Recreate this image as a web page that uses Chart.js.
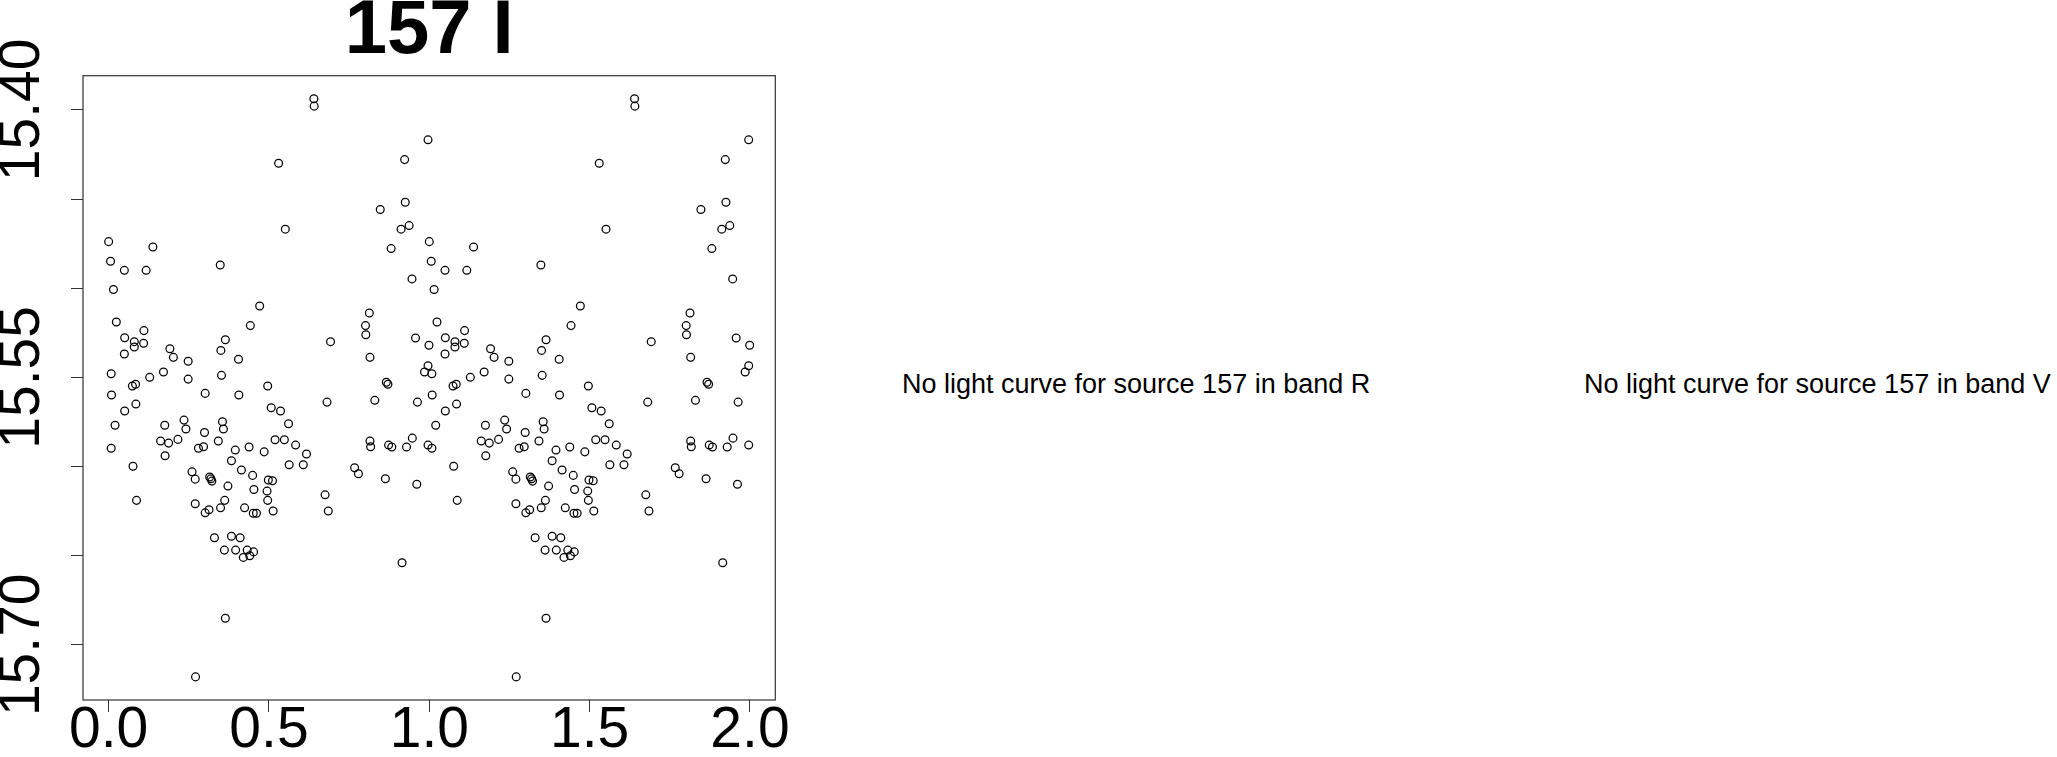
<!DOCTYPE html>
<html>
<head>
<meta charset="utf-8">
<script src="https://cdn.jsdelivr.net/npm/chart.js@4.4.1/dist/chart.umd.min.js"></script>
<style>
  html, body { margin: 0; padding: 0; background: #fff; }
  body { width: 2057px; height: 757px; position: relative; overflow: hidden; font-family: "Liberation Sans", Arial, sans-serif; }
  #panelI { position: absolute; left: 0; top: 0; width: 820px; height: 757px; }
  .nodata { position: absolute; top: 371px; font-size: 27px; line-height: 27px; white-space: nowrap; color: #000; }
</style>
</head>
<body>
<div id="panelI"><canvas id="lcI"></canvas></div>
<div class="nodata" id="msgR" style="left:902px"></div>
<div class="nodata" id="msgV" style="left:1584px"></div>
<script>
const sourceId = 157;
const band = 'I';
const missingBands = ['R', 'V'];

// phase-folded light curve, phase in [0,1), plotted twice
const phase = [
  0.000, 0.006, 0.008, 0.008, 0.009, 0.015, 0.020, 0.024, 0.049, 0.049,
  0.050, 0.050, 0.074, 0.076, 0.080, 0.080, 0.084, 0.085, 0.087, 0.109,
  0.110, 0.117, 0.128, 0.138, 0.162, 0.171, 0.175, 0.176, 0.187, 0.191,
  0.202, 0.216, 0.235, 0.241, 0.248, 0.248, 0.260, 0.270, 0.270, 0.271,
  0.280, 0.296, 0.299, 0.301, 0.301, 0.313, 0.315, 0.319, 0.322, 0.330,
  0.342, 0.348, 0.349, 0.350, 0.352, 0.355, 0.358, 0.361, 0.362, 0.364,
  0.364, 0.372, 0.383, 0.383, 0.395, 0.396, 0.405, 0.406, 0.410, 0.414,
  0.420, 0.424, 0.432, 0.438, 0.440, 0.442, 0.449, 0.451, 0.452, 0.453,
  0.461, 0.471, 0.485, 0.494, 0.496, 0.496, 0.498, 0.507, 0.511, 0.513,
  0.519, 0.530, 0.536, 0.548, 0.551, 0.561, 0.563, 0.583, 0.607, 0.617,
  0.640, 0.641, 0.675, 0.681, 0.685, 0.692, 0.767, 0.779, 0.801, 0.802,
  0.813, 0.815, 0.815, 0.817, 0.830, 0.847, 0.863, 0.866, 0.871, 0.873,
  0.881, 0.883, 0.912, 0.915, 0.923, 0.925, 0.929, 0.937, 0.946, 0.947,
  0.957, 0.961, 0.963, 0.985, 0.996, 0.996, 0.996, 0.999
];
const magI = [
  15.4739, 15.4849, 15.5480, 15.5898, 15.5599, 15.5007, 15.5769, 15.5190, 15.4900, 15.5369,
  15.5278, 15.5689, 15.5549, 15.5999, 15.5300, 15.5330, 15.5539, 15.5650, 15.6190, 15.5309,
  15.5238, 15.4900, 15.5500, 15.4769, 15.5857, 15.5470, 15.5769, 15.5940, 15.5869, 15.5340,
  15.5388, 15.5848, 15.5740, 15.5790, 15.5410, 15.5510, 15.6030, 15.6071, 15.6209, 15.7180,
  15.5898, 15.5889, 15.5809, 15.5590, 15.6260, 15.6243, 15.6059, 15.6069, 15.6082, 15.6400,
  15.5857, 15.4870, 15.6232, 15.5349, 15.5489, 15.5749, 15.5790, 15.6469, 15.6190, 15.5289,
  15.6851, 15.6110, 15.5968, 15.6391, 15.5908, 15.6469, 15.5399, 15.5599, 15.6400, 15.6020,
  15.6510, 15.6232, 15.6469, 15.5891, 15.6501, 15.5210, 15.6050, 15.6262, 15.6479, 15.6129,
  15.6262, 15.5100, 15.5918, 15.6138, 15.5549, 15.6190, 15.6076, 15.5671, 15.6080, 15.6250,
  15.5850, 15.4299, 15.5689, 15.5850, 15.4669, 15.5760, 15.5990, 15.5880, 15.5990, 15.5930,
  15.3938, 15.3979, 15.6159, 15.5639, 15.6250, 15.5300, 15.6007, 15.6041, 15.5210, 15.5261,
  15.5139, 15.5388, 15.5857, 15.5889, 15.5629, 15.4559, 15.6069, 15.5528, 15.5539, 15.5880,
  15.4778, 15.5891, 15.4669, 15.6540, 15.4279, 15.4518, 15.5891, 15.4649, 15.4948, 15.5841,
  15.5279, 15.6100, 15.5639, 15.5470, 15.4168, 15.5435, 15.5880, 15.5320
];

const yTickLabels = ['15.40', '15.55', '15.70'];
const xTickLabels = ['0.0', '0.5', '1.0', '1.5', '2.0'];

// two cycles
const points = phase.map((p, i) => ({ x: p, y: magI[i] }))
  .concat(phase.map((p, i) => ({ x: p + 1, y: magI[i] })));

// R style 4% range extension
function padRange(vals) {
  const lo = Math.min(...vals), hi = Math.max(...vals);
  const d = (hi - lo) * 0.04;
  return [lo - d, hi + d];
}
const xr = padRange(points.map(p => p.x));
const yr = padRange(magI);

const plotBox = {
  id: 'plotBox',
  afterDraw(chart) {
    const a = chart.chartArea;
    const ctx = chart.ctx;
    ctx.save();
    ctx.strokeStyle = '#333';
    ctx.lineWidth = 1.2;
    ctx.strokeRect(a.left, a.top, a.right - a.left, a.bottom - a.top);
    ctx.restore();
  }
};

Chart.defaults.font.family = '"Liberation Sans", Arial, Helvetica, sans-serif';
Chart.defaults.color = '#000';

new Chart(document.getElementById('lcI'), {
  type: 'scatter',
  data: {
    datasets: [{
      data: points,
      pointStyle: 'circle',
      pointRadius: 3.9,
      pointBorderWidth: 1.25,
      pointBorderColor: '#000',
      pointBackgroundColor: 'rgba(0,0,0,0)'
    }]
  },
  options: {
    responsive: true,
    maintainAspectRatio: false,
    animation: false,
    events: [],
    layout: { padding: { left: 0, top: 0, right: 44.7, bottom: 0 } },
    plugins: {
      legend: { display: false },
      tooltip: { enabled: false },
      title: {
        display: true,
        fullSize: false,
        text: sourceId + ' ' + band,
        color: '#000',
        font: { size: 76, weight: 'bold', lineHeight: 0.8 },
        padding: { top: 1.6, bottom: 13.3 }
      }
    },
    scales: {
      x: {
        type: 'linear',
        min: xr[0],
        max: xr[1],
        afterFit: s => { s.height = 57; },
        border: { display: false },
        grid: { drawOnChartArea: false, drawTicks: true, tickLength: 12, tickColor: '#333', tickWidth: 1 },
        ticks: {
          stepSize: 0.5,
          includeBounds: false,
          autoSkip: false,
          maxRotation: 0,
          padding: -9,
          font: { size: 57, lineHeight: 1 },
          callback: v => {
            const s = Number(v).toFixed(1);
            return xTickLabels.includes(s) ? s : '';
          }
        }
      },
      y: {
        type: 'linear',
        reverse: true,
        min: yr[0],
        max: yr[1],
        afterFit: s => { s.width = 83; },
        border: { display: false },
        grid: { drawOnChartArea: false, drawTicks: true, tickLength: 12, tickColor: '#333', tickWidth: 1 },
        ticks: {
          stepSize: 0.05,
          includeBounds: false,
          autoSkip: false,
          minRotation: 90,
          maxRotation: 90,
          crossAlign: 'center',
          padding: -23.3,
          font: { size: 57, lineHeight: 1 },
          callback: v => {
            const s = Number(v).toFixed(2);
            return yTickLabels.includes(s) ? s : '';
          }
        }
      }
    }
  },
  plugins: [plotBox]
});

document.getElementById('msgR').textContent = 'No light curve for source ' + sourceId + ' in band ' + missingBands[0];
document.getElementById('msgV').textContent = 'No light curve for source ' + sourceId + ' in band ' + missingBands[1];
</script>
</body>
</html>
